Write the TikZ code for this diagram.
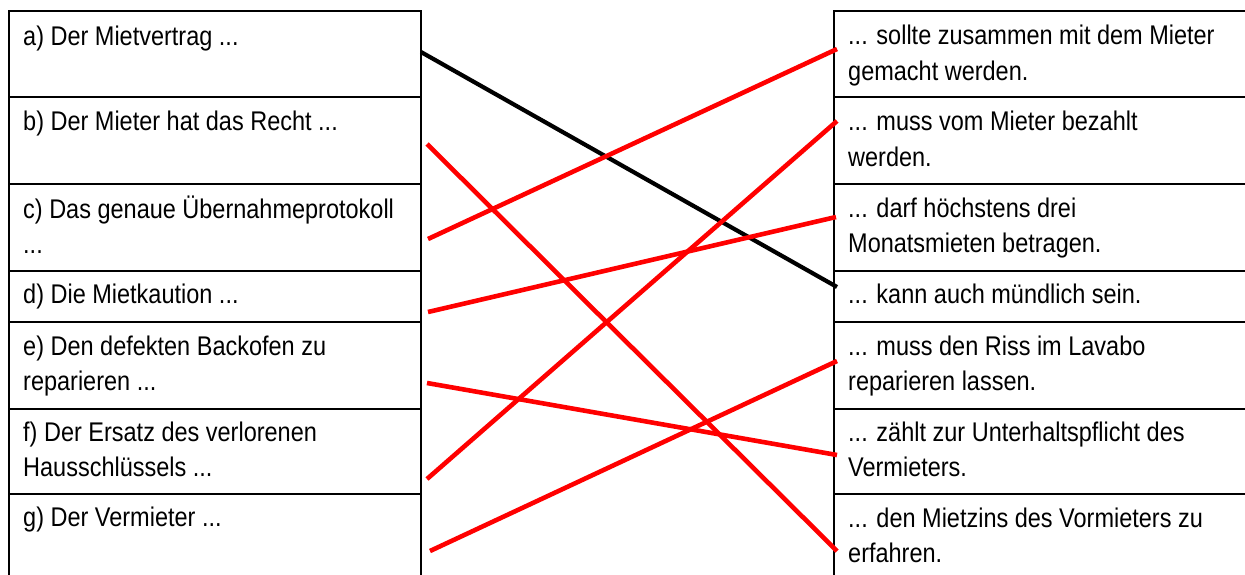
\documentclass[tikz,border=0pt]{standalone}
\usepackage{fontspec}
\setmainfont[FakeStretch=0.87]{Liberation Sans}
\begin{document}
\begin{tikzpicture}[x=1pt,y=-1pt,
  cell/.style={draw=black,line width=2.4pt,minimum width=#1,anchor=north west,inner sep=0pt},
  cell/.default=411.5pt,
  txt/.style={anchor=base west,inner sep=0pt,font=\fontsize{27}{35}\selectfont},
  match/.style={red,line width=4.6pt},
  matchok/.style={black,line width=4.2pt}]
\useasboundingbox (0,0) rectangle (1245,574);
\clip (0,0) rectangle (1245,574);
% left table cells
\node[cell,minimum height=86pt] (La) at (8,10) {};
\node[cell,minimum height=87pt] (Lb) at (8,96) {};
\node[cell,minimum height=87pt] (Lc) at (8,183) {};
\node[cell,minimum height=50.7pt] (Ld) at (8,270) {};
\node[cell,minimum height=87pt] (Le) at (8,320.7) {};
\node[cell,minimum height=85pt] (Lf) at (8,407.7) {};
\node[cell,minimum height=100pt] (Lg) at (8,492.7) {};
% right table cells
\node[cell=430pt,minimum height=86pt] (Ra) at (833,10) {};
\node[cell=430pt,minimum height=87pt] (Rb) at (833,96) {};
\node[cell=430pt,minimum height=87pt] (Rc) at (833,183) {};
\node[cell=430pt,minimum height=50.7pt] (Rd) at (833,270) {};
\node[cell=430pt,minimum height=87pt] (Re) at (833,320.7) {};
\node[cell=430pt,minimum height=85pt] (Rf) at (833,407.7) {};
\node[cell=430pt,minimum height=100pt] (Rg) at (833,492.7) {};
% left texts
\node[txt] (ta1) at (23,45) {a) Der Mietvertrag ...};
\node[txt] (tb1) at (23,130) {b) Der Mieter hat das Recht ...};
\node[txt] (tc1) at (23,218) {c) Das genaue Übernahmeprotokoll};
\node[txt] (tc2) at (23,253) {...};
\node[txt] (td1) at (23,303) {d) Die Mietkaution ...};
\node[txt] (te1) at (23,355) {e) Den defekten Backofen zu};
\node[txt] (te2) at (23,390) {reparieren ...};
\node[txt] (tf1) at (23,441) {f) Der Ersatz des verlorenen};
\node[txt] (tf2) at (23,476) {Hausschlüssels ...};
\node[txt] (tg1) at (23,526) {g) Der Vermieter ...};
% right texts
\node[txt] (sa1) at (848,44) {... sollte zusammen mit dem Mieter};
\node[txt] (sa2) at (848,80) {gemacht werden.};
\node[txt] (sb1) at (848,130) {... muss vom Mieter bezahlt};
\node[txt] (sb2) at (848,166) {werden.};
\node[txt] (sc1) at (848,217) {... darf höchstens drei};
\node[txt] (sc2) at (848,252) {Monatsmieten betragen.};
\node[txt] (sd1) at (848,303) {... kann auch mündlich sein.};
\node[txt] (se1) at (848,355) {... muss den Riss im Lavabo};
\node[txt] (se2) at (848,390) {reparieren lassen.};
\node[txt] (sf1) at (848,441) {... zählt zur Unterhaltspflicht des};
\node[txt] (sf2) at (848,476) {Vermieters.};
\node[txt] (sg1) at (848,527) {... den Mietzins des Vormieters zu};
\node[txt] (sg2) at (848,562) {erfahren.};
% connector end points
\coordinate (oa) at (421,52);
\coordinate (ob) at (427,144);
\coordinate (oc) at (428,239);
\coordinate (od) at (428,312);
\coordinate (oe) at (427,383);
\coordinate (of) at (427,479);
\coordinate (og) at (430,551);
\coordinate (ia) at (837,49);
\coordinate (ib) at (837,121);
\coordinate (ic) at (836,217);
\coordinate (id) at (837,287);
\coordinate (ie) at (837,361);
\coordinate (if) at (837,455);
\coordinate (ig) at (837,551);
% connectors
\draw[matchok] (oa) -- (id);
\draw[match] (ob) -- (ig);
\draw[match] (oc) -- (ia);
\draw[match] (od) -- (ic);
\draw[match] (oe) -- (if);
\draw[match] (of) -- (ib);
\draw[match] (og) -- (ie);
\end{tikzpicture}
\end{document}
